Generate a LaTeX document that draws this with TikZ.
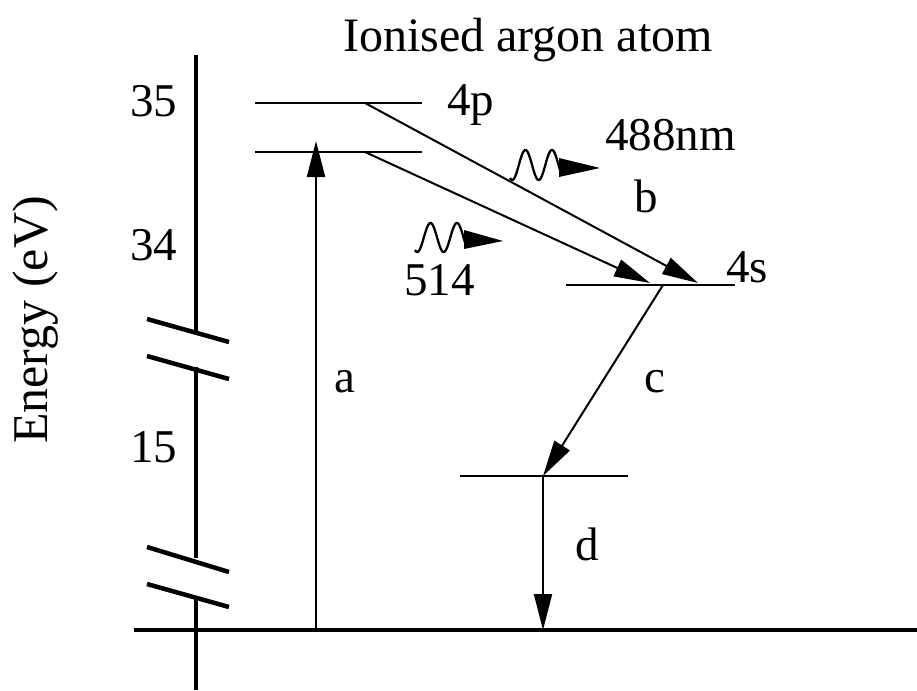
\documentclass[tikz,border=0pt]{standalone}
\usepackage{fontspec}
\setmainfont{Liberation Serif}
\usetikzlibrary{arrows.meta}
\begin{document}
\begin{tikzpicture}[x=1pt,y=-1pt,
  txt/.style={font=\fontsize{47}{52}\selectfont, inner sep=0pt, anchor=base west},
  level/.style={line width=2pt},
  axis/.style={line width=4.5pt},
  trans/.style={line width=2pt,-{Triangle[length=36pt,width=18pt]}},
  wave/.style={line width=2.3pt},
  photontip/.style={fill=black},
  ]
\useasboundingbox (0,0) rectangle (917,690);
% axes
\coordinate (vtop) at (196,55);
\coordinate (vb1) at (196,332);
\coordinate (vb2) at (196,367);
\coordinate (vb3) at (196,558);
\coordinate (vb4) at (196,598);
\coordinate (vbot) at (196,690);
\coordinate (hl) at (134,630);
\coordinate (hr) at (917,630);
\draw[axis] (vtop) -- (vb1) (vb2) -- (vb3) (vb4) -- (vbot);
\draw[axis] (hl) -- (hr);
\coordinate (s1a) at (147,319); \coordinate (s1b) at (229,342);
\coordinate (s2a) at (147,356); \coordinate (s2b) at (229,379);
\coordinate (s3a) at (147,547); \coordinate (s3b) at (229,572);
\coordinate (s4a) at (147,584); \coordinate (s4b) at (229,607);
\draw[axis] (s1a) -- (s1b) (s2a) -- (s2b) (s3a) -- (s3b) (s4a) -- (s4b);
% levels
\coordinate (p1l) at (255,103); \coordinate (p1r) at (422,103);
\coordinate (p2l) at (255,152); \coordinate (p2r) at (422,152);
\coordinate (sl) at (566,285); \coordinate (sr) at (735,285);
\coordinate (gl) at (460,476); \coordinate (gr) at (628,476);
\draw[level] (p1l) -- (p1r) (p2l) -- (p2r) (sl) -- (sr) (gl) -- (gr);
% transitions
\coordinate (a0) at (316,630); \coordinate (a1) at (316,141);
\coordinate (b0) at (365,103); \coordinate (b1) at (698,283);
\coordinate (e0) at (365,152); \coordinate (e1) at (650,283);
\coordinate (c0) at (663,285); \coordinate (c1) at (543,476);
\coordinate (d1) at (543,630);
\draw[trans] (a0) -- (a1);
\draw[trans] (b0) -- (b1);
\draw[trans] (e0) -- (e1);
\draw[trans] (c0) -- (c1);
\draw[trans] (c1) -- (d1);
% photons
\draw[wave,domain=0:1,samples=120,smooth] plot ({510+50*\x},{165-15*sin(\x*680-120)});
\coordinate (ph1a) at (559,158); \coordinate (ph1b) at (600,168); \coordinate (ph1c) at (559,177);
\fill[photontip] (ph1a) -- (ph1b) -- (ph1c) -- cycle;
\draw[wave,domain=0:1,samples=120,smooth] plot ({415+50*\x},{237.5-14.5*sin(\x*680-120)});
\coordinate (ph2a) at (464,230); \coordinate (ph2b) at (503,241); \coordinate (ph2c) at (464,249);
\fill[photontip] (ph2a) -- (ph2b) -- (ph2c) -- cycle;
% texts
\node[txt,anchor=base,font=\fontsize{48}{52}\selectfont] (title) at (528,52) {Ionised argon atom};
\node[txt] (t35) at (130,117) {35};
\node[txt] (t34) at (130,260) {34};
\node[txt] (t15) at (130,462) {15};
\node[txt,anchor=base,rotate=90,font=\fontsize{50}{54}\selectfont] (ylab) at (47,320) {Energy (eV)};
\node[txt] (l4p) at (447,115) {4p};
\node[txt] (l488) at (605,150) {488nm};
\node[txt] (lb) at (634,212) {b};
\node[txt] (l4s) at (726,282) {4s};
\node[txt] (l514) at (404,295) {514};
\node[txt] (la) at (334,392) {a};
\node[txt] (lc) at (644,392) {c};
\node[txt] (ld) at (575,560) {d};
\end{tikzpicture}
\end{document}
